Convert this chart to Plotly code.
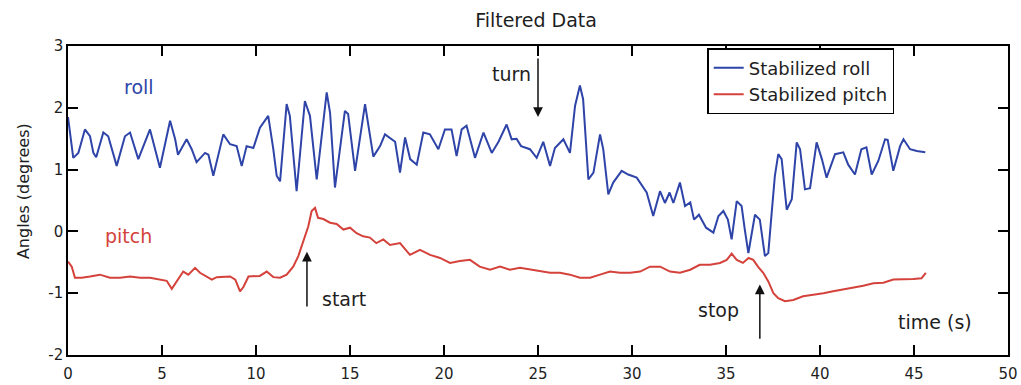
import plotly.graph_objects as go

# ---- data ----
roll_t = [0, 0.28, 0.55, 0.9, 1.17, 1.35, 1.5, 1.88, 2.14, 2.59, 3.03, 3.3, 3.74, 4.18, 4.36, 4.89,
          5.43, 5.7, 5.85, 6.31, 6.58, 6.84, 7.29, 7.47, 7.73, 8.26, 8.62, 8.97, 9.24, 9.5, 9.86,
          10.21, 10.65, 10.92, 11.1, 11.28, 11.63, 11.8, 12.16, 12.6, 12.87, 13.23, 13.76, 13.94,
          14.2, 14.73, 14.9, 15.27, 15.8, 16.24, 16.6, 16.86, 17.4, 17.66, 17.93, 18.2, 18.55,
          18.9, 19.25, 19.7, 20.05, 20.4, 20.67, 20.94, 21.2, 21.65, 22.1, 22.54, 22.9, 23.33,
          23.6, 23.86, 24.1, 24.57, 24.93, 25.28, 25.64, 25.9, 26.35, 26.7, 26.97, 27.23, 27.4,
          27.68, 27.95, 28.3, 28.47, 28.74, 29.0, 29.45, 29.8, 30.25, 30.78, 31.13, 31.49, 31.75,
          32.0, 32.2, 32.55, 32.82, 33.1, 33.3, 33.56, 33.94, 34.33, 34.6, 34.86, 35.1, 35.3,
          35.57, 35.83, 36.0, 36.19, 36.54, 36.8, 37.07, 37.25, 37.43, 37.6, 37.78, 37.96, 38.23,
          38.5, 38.76, 38.94, 39.2, 39.47, 39.82, 40.1, 40.35, 40.8, 41.24, 41.5, 41.86, 42.2,
          42.47, 42.75, 43.1, 43.46, 43.6, 43.9, 44.26, 44.44, 44.79, 45.15, 45.6]
roll_v = [1.85, 1.19, 1.27, 1.65, 1.54, 1.27, 1.2, 1.6, 1.54, 1.06, 1.54, 1.6, 1.17, 1.49, 1.65, 1.03,
          1.79, 1.49, 1.24, 1.49, 1.33, 1.12, 1.27, 1.24, 0.9, 1.57, 1.41, 1.38, 1.06, 1.38, 1.35,
          1.68, 1.87, 1.33, 0.9, 0.81, 2.06, 1.87, 0.65, 2.11, 1.87, 0.84, 2.25, 1.92,
          0.71, 1.95, 1.9, 0.98, 2.06, 1.21, 1.38, 1.57, 1.45, 0.95, 1.52, 1.17, 1.08,
          1.6, 1.57, 1.33, 1.65, 1.65, 1.22, 1.65, 1.71, 1.19, 1.6, 1.27, 1.45, 1.73,
          1.49, 1.5, 1.38, 1.33, 1.19, 1.45, 1.06, 1.35, 1.49, 1.27, 2.03, 2.36, 2.14,
          0.84, 0.95, 1.57, 1.33, 0.6, 0.79, 0.98, 0.92, 0.87, 0.63, 0.25, 0.65, 0.46,
          0.63, 0.46, 0.79, 0.41, 0.47, 0.19, 0.27, 0.06, -0.02, 0.25, 0.33, 0.19, -0.13,
          0.49, 0.41, 0.03, -0.35, 0.27, 0.19, -0.4, -0.35, 0.3, 0.9, 1.25, 1.17, 0.35,
          0.52, 1.44, 1.33, 0.68, 0.7, 1.44, 1.17, 0.87, 1.25, 1.28, 1.08, 0.92, 1.33,
          1.36, 0.92, 1.14, 1.49, 1.48, 0.98, 1.38, 1.49, 1.33, 1.30, 1.28]

pitch_t = [0, 0.2, 0.37, 0.73, 1.17, 1.7, 2.23, 2.77, 3.3, 3.83, 4.36, 4.89, 5.25, 5.52, 5.79, 6.13,
           6.4, 6.76, 7.02, 7.38, 7.65, 7.91, 8.62, 8.9, 9.15, 9.33, 9.6, 10.2, 10.57, 10.92, 11.28,
           11.63, 11.98, 12.25, 12.5, 12.78, 12.96, 13.14, 13.3, 13.58, 13.94, 14.29, 14.65, 15.0,
           15.35, 15.7, 16.06, 16.4, 16.77, 17.13, 17.66, 18.19, 18.72, 19.26, 19.79, 20.32, 20.85,
           21.38, 21.9, 22.45, 22.98, 23.5, 24.04, 24.57, 25.1, 25.64, 26.17, 26.7, 27.23, 27.77,
           28.3, 28.83, 29.36, 29.9, 30.43, 30.96, 31.5, 32.02, 32.55, 33.1, 33.6, 34.15, 34.68,
           35.04, 35.3, 35.57, 35.9, 36.2, 36.45, 36.7, 36.98, 37.25, 37.52, 37.78, 38.14, 38.58,
           39.1, 39.65, 40.18, 40.7, 41.24, 41.77, 42.3, 42.84, 43.37, 43.9, 44.43, 44.96, 45.4, 45.63]
pitch_v = [-0.49, -0.57, -0.75, -0.75, -0.73, -0.70, -0.75, -0.75, -0.73, -0.75, -0.75, -0.78, -0.80,
           -0.93, -0.80, -0.65, -0.70, -0.59, -0.67, -0.73, -0.78, -0.74, -0.73, -0.78, -0.97, -0.9,
           -0.73, -0.72, -0.65, -0.74, -0.75, -0.70, -0.57, -0.40, -0.16, 0.08, 0.33, 0.38, 0.22,
           0.20, 0.14, 0.12, 0.03, 0.06, -0.03, -0.08, -0.10, -0.19, -0.13, -0.22, -0.19, -0.38,
           -0.30, -0.38, -0.43, -0.51, -0.48, -0.46, -0.57, -0.62, -0.57, -0.62, -0.59, -0.62, -0.65,
           -0.67, -0.67, -0.70, -0.75, -0.75, -0.70, -0.65, -0.67, -0.67, -0.65, -0.57, -0.57, -0.65,
           -0.67, -0.62, -0.54, -0.54, -0.51, -0.46, -0.36, -0.46, -0.51, -0.43, -0.46, -0.57, -0.67,
           -0.81, -1.0, -1.08, -1.13, -1.11, -1.05, -1.03, -1.0, -0.97, -0.94, -0.92, -0.88, -0.84,
           -0.83, -0.78, -0.78, -0.77, -0.76, -0.67]

x_ticks = [0, 5, 10, 15, 20, 25, 30, 35, 40, 45, 50]
y_ticks = [-2, -1, 0, 1, 2, 3]

BLUE = "#2e44a8"
RED = "#d4423b"
FONT = "DejaVu Sans, Liberation Sans, sans-serif"
INK = "#1e1e1e"

fig = go.Figure()
fig.add_trace(go.Scatter(x=roll_t, y=roll_v, mode="lines", name="Stabilized roll",
                         line=dict(color=BLUE, width=2)))
fig.add_trace(go.Scatter(x=pitch_t, y=pitch_v, mode="lines", name="Stabilized pitch",
                         line=dict(color=RED, width=2)))

axis_common = dict(showgrid=False, zeroline=False, ticks="inside", ticklen=10, tickwidth=1.5,
                   tickcolor="black", showline=True, linecolor="black", linewidth=1.5,
                   mirror="ticks", automargin=False,
                   tickfont=dict(family=FONT, size=15, color=INK))

fig.update_xaxes(range=[0, 50], tickvals=x_ticks, ticktext=[str(v) for v in x_ticks],
                 ticklabelstandoff=4, **axis_common)
fig.update_yaxes(range=[-2, 3], tickvals=y_ticks, ticktext=[str(v) for v in y_ticks],
                 **axis_common)

ann = []
def text(x, y, s, color=INK, size=19):
    ann.append(dict(x=x, y=y, xref="x", yref="y", text=s, showarrow=False,
                    font=dict(family=FONT, size=size, color=color)))
def arrow(x, y_tip, y_tail):
    ann.append(dict(x=x, y=y_tip, ax=x, ay=y_tail, xref="x", yref="y", axref="x", ayref="y",
                    text="", showarrow=True, arrowhead=2, arrowsize=1.3, arrowwidth=1.5,
                    arrowcolor="#111"))

text(3.8, 2.33, "roll", BLUE)
text(3.2, -0.07, "pitch", RED)
text(23.6, 2.55, "turn")
arrow(25.0, 1.85, 2.82)
text(14.7, -1.1, "start")
arrow(12.71, -0.33, -1.24)
text(34.6, -1.27, "stop")
arrow(36.8, -0.86, -1.76)
text(46.1, -1.46, "time (s)")

# y-axis title placed as rotated text
ann.append(dict(x=-0.048, y=0.53, xref="paper", yref="paper", text="Angles (degrees)",
                textangle=-90, showarrow=False, xanchor="center", yanchor="middle",
                font=dict(family=FONT, size=16, color=INK)))

fig.update_layout(
    width=1021, height=385,
    margin=dict(l=68, r=13, t=46, b=30),
    paper_bgcolor="white", plot_bgcolor="white",
    title=dict(text="Filtered Data", x=0.525, xanchor="center", y=0.948, yanchor="middle",
               font=dict(family=FONT, size=19, color=INK)),
    legend=dict(x=0.68, y=0.993, xanchor="left", yanchor="top", bgcolor="white",
                bordercolor="black", borderwidth=1.5,
                font=dict(family=FONT, size=18, color=INK), tracegroupgap=0),
    annotations=ann,
)

fig.write_html("out.html")
